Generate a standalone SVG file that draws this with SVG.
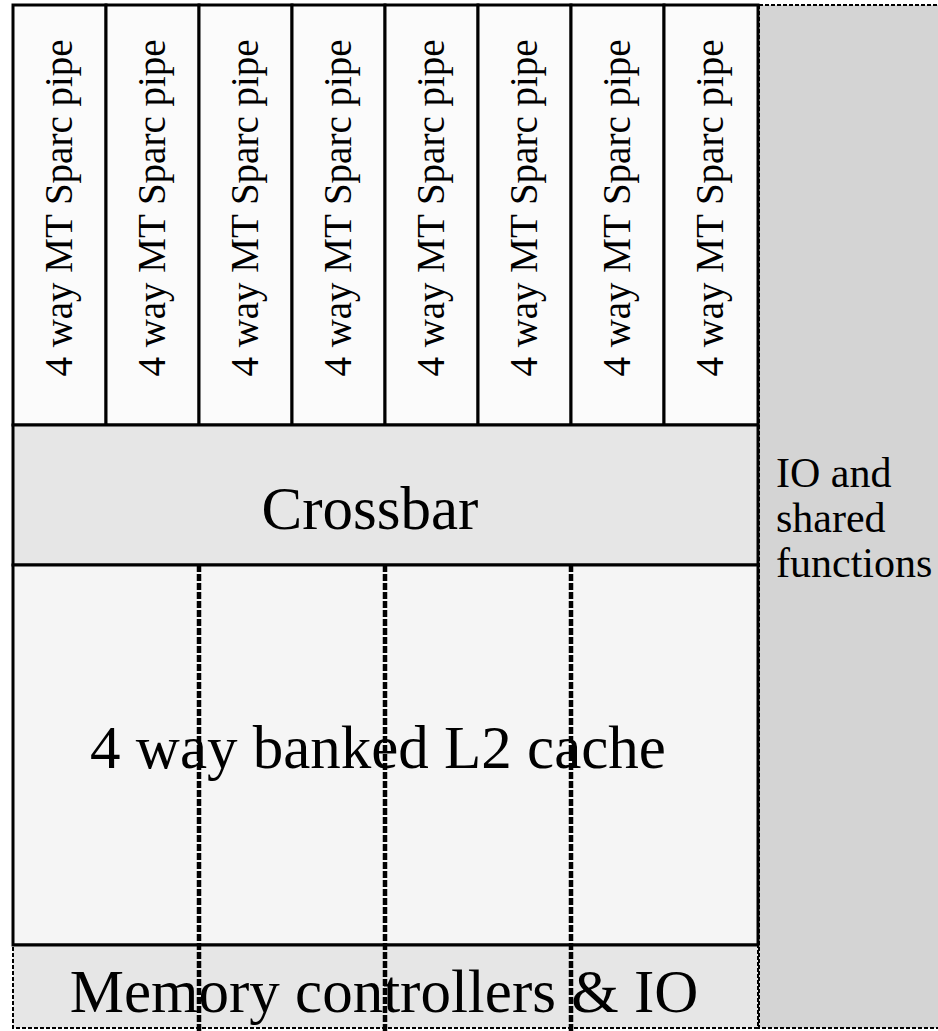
<svg xmlns="http://www.w3.org/2000/svg" width="938" height="1031" viewBox="0 0 938 1031">
<style>
.solid{stroke:#000;stroke-width:3}
.pipe{fill:#fbfbfb}
.t{font-family:"Liberation Serif","Times New Roman",serif;fill:#000}
.big{font-size:61px;text-anchor:middle}
.dash{stroke:#000;stroke-width:2;stroke-dasharray:4 2}
.div{stroke:#000;stroke-width:4.5;stroke-dasharray:7 2}
</style>
<rect width="938" height="1031" fill="#fff"/>
<g id="io-panel">
<rect x="759" y="5" width="182" height="1023" style="fill:#d4d4d4" class="dash"/>
<text class="t" style="font-size:42px" x="776" y="487">IO and</text>
<text class="t" style="font-size:42px" x="776" y="532">shared</text>
<text class="t" style="font-size:42px" x="776" y="577">functions</text>
</g>
<g id="pipes">
<g id="pipe1"><rect x="13" y="5" width="93" height="420" class="pipe solid"/><g transform="translate(72,208) rotate(-90)"><text font-family="Liberation Serif, Times New Roman, serif" font-size="39" text-anchor="middle" x="0" y="0">4 way MT Sparc pipe</text></g></g>
<g id="pipe2"><rect x="106" y="5" width="93" height="420" class="pipe solid"/><g transform="translate(165,208) rotate(-90)"><text font-family="Liberation Serif, Times New Roman, serif" font-size="39" text-anchor="middle" x="0" y="0">4 way MT Sparc pipe</text></g></g>
<g id="pipe3"><rect x="199" y="5" width="93" height="420" class="pipe solid"/><g transform="translate(258,208) rotate(-90)"><text font-family="Liberation Serif, Times New Roman, serif" font-size="39" text-anchor="middle" x="0" y="0">4 way MT Sparc pipe</text></g></g>
<g id="pipe4"><rect x="292" y="5" width="93" height="420" class="pipe solid"/><g transform="translate(351,208) rotate(-90)"><text font-family="Liberation Serif, Times New Roman, serif" font-size="39" text-anchor="middle" x="0" y="0">4 way MT Sparc pipe</text></g></g>
<g id="pipe5"><rect x="385" y="5" width="93" height="420" class="pipe solid"/><g transform="translate(444,208) rotate(-90)"><text font-family="Liberation Serif, Times New Roman, serif" font-size="39" text-anchor="middle" x="0" y="0">4 way MT Sparc pipe</text></g></g>
<g id="pipe6"><rect x="478" y="5" width="93" height="420" class="pipe solid"/><g transform="translate(537,208) rotate(-90)"><text font-family="Liberation Serif, Times New Roman, serif" font-size="39" text-anchor="middle" x="0" y="0">4 way MT Sparc pipe</text></g></g>
<g id="pipe7"><rect x="571" y="5" width="93" height="420" class="pipe solid"/><g transform="translate(630,208) rotate(-90)"><text font-family="Liberation Serif, Times New Roman, serif" font-size="39" text-anchor="middle" x="0" y="0">4 way MT Sparc pipe</text></g></g>
<g id="pipe8"><rect x="664" y="5" width="94" height="420" class="pipe solid"/><g transform="translate(723,208) rotate(-90)"><text font-family="Liberation Serif, Times New Roman, serif" font-size="39" text-anchor="middle" x="0" y="0">4 way MT Sparc pipe</text></g></g>
</g>
<g id="crossbar">
<rect x="13" y="425" width="745" height="140" style="fill:#e6e6e6" class="solid"/>
<text class="t big" x="370" y="529">Crossbar</text>
</g>
<g id="l2cache">
<rect x="13" y="565" width="745" height="380" style="fill:#f5f5f5" class="solid"/>
</g>
<g id="memctrl">
<rect x="13" y="945" width="745" height="83" style="fill:#e6e6e6" class="dash"/>
<line x1="13" y1="945" x2="758" y2="945" class="solid"/>
</g>
<g id="connectors">
<line x1="199" y1="565" x2="199" y2="1031" class="div"/>
<line x1="385" y1="565" x2="385" y2="1031" class="div"/>
<line x1="571" y1="565" x2="571" y2="1031" class="div"/>
<line x1="759" y1="5" x2="759" y2="1028" class="dash"/>
</g>
<text class="t big" x="378" y="768">4 way banked L2 cache</text>
<text class="t big" x="384" y="1012">Memory controllers &amp; IO</text>
</svg>
